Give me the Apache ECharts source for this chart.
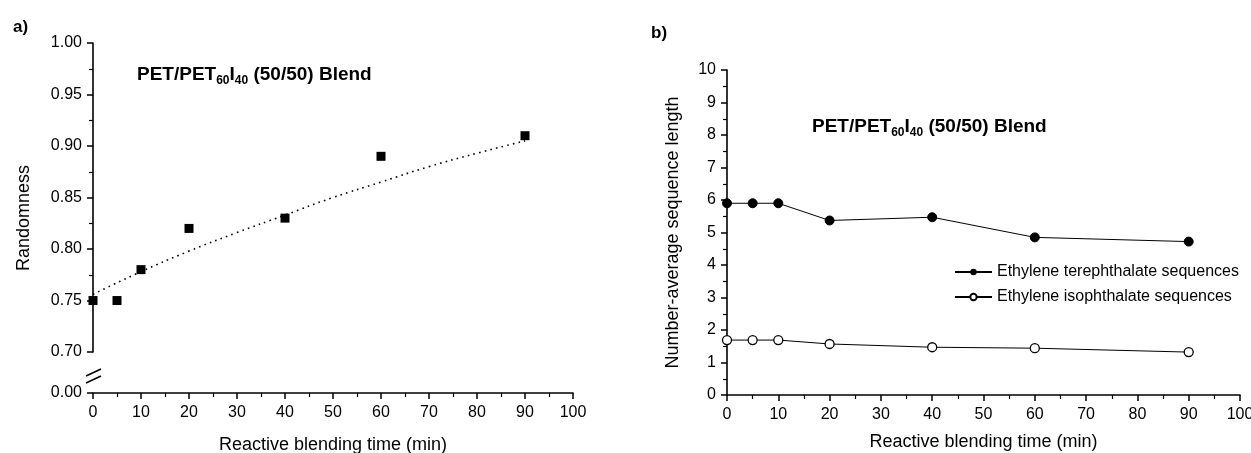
<!DOCTYPE html>
<html>
<head>
<meta charset="utf-8">
<script src="https://cdn.jsdelivr.net/npm/echarts@6/dist/echarts.min.js"></script>
<style>
html,body{margin:0;padding:0;background:#fff;}
#c{width:1251px;height:453px;}
</style>
</head>
<body>
<div id="c"></div>
<script>
// ---- data ----
const timeA = [0, 5, 10, 20, 40, 60, 90];
const randomness = [0.75, 0.75, 0.78, 0.82, 0.83, 0.89, 0.91];
const fitTime = [0, 10, 20, 30, 40, 50, 60, 70, 80, 90];
const fitRandomness = [0.756, 0.778, 0.798, 0.816, 0.833, 0.850, 0.865, 0.880, 0.893, 0.905];

const timeB = [0, 5, 10, 20, 40, 60, 90];
const terephthalate = [5.9, 5.9, 5.9, 5.37, 5.47, 4.85, 4.72];
const isophthalate = [1.69, 1.69, 1.69, 1.57, 1.47, 1.44, 1.32];

const seriesNames = ['Ethylene terephthalate sequences', 'Ethylene isophthalate sequences'];
const titleText = '{b|PET/PET}{s|60}{b|I}{s|40}{b| (50/50) Blend}';
const xName = 'Reactive blending time (min)';
const yNameA = 'Randomness';
const yNameB = 'Number-average sequence length';

const FONT = 'Liberation Sans, Arial, sans-serif';
const chart = echarts.init(document.getElementById('c'), null, {renderer: 'canvas'});

const axisLine = {show: true, lineStyle: {color: '#000', width: 1.6}};
const axisTick = {show: true, inside: false, length: 6, lineStyle: {color: '#000', width: 1.5}};
const minorTick = {show: true, splitNumber: 2, length: 4, lineStyle: {color: '#000', width: 1.2}};
const xLabel = {color: '#000', fontFamily: FONT, fontSize: 16, margin: 12};
const yLabel = {color: '#000', fontFamily: FONT, fontSize: 16, margin: 11};
const nameStyle = {color: '#000', fontFamily: FONT, fontSize: 18};
const titleRich = {
  b: {fontFamily: FONT, fontSize: 19, fontWeight: 'bold', color: '#000', lineHeight: 24},
  s: {fontFamily: FONT, fontSize: 12, fontWeight: 'bold', color: '#000', lineHeight: 12, verticalAlign: 'bottom'}
};

const option = {
  animation: false,
  backgroundColor: '#fff',
  title: [
    {text: titleText, left: 132, top: 58, textStyle: {rich: titleRich}},
    {text: titleText, left: 807, top: 110, textStyle: {rich: titleRich}},
    {text: '{b|a}{b|)}', left: 8, top: 14, textStyle: {rich: {b: {fontFamily: FONT, fontSize: 17, fontWeight: 'bold', color: '#000'}}}},
    {text: '{b|b}{n|)}', left: 646, top: 20, textStyle: {rich: {b: {fontFamily: FONT, fontSize: 17, fontWeight: 'bold', color: '#000'}, n: {fontFamily: FONT, fontSize: 17, color: '#000'}}}}
  ],
  legend: {
    orient: 'vertical', left: 949, top: 259, itemWidth: 37, itemHeight: 8, itemGap: 9,
    textStyle: {fontFamily: FONT, fontSize: 16, color: '#000'},
    data: seriesNames
  },
  grid: [
    {left: 93, top: 43, width: 480, height: 350, outerBoundsMode: 'none', containLabel: false},
    {left: 727, top: 70, width: 513, height: 325, outerBoundsMode: 'none', containLabel: false}
  ],
  xAxis: [
    {gridIndex: 0, type: 'value', min: 0, max: 100, interval: 10,
     axisLine: axisLine, axisTick: axisTick, minorTick: minorTick, axisLabel: xLabel,
     splitLine: {show: false}, minorSplitLine: {show: false},
     name: xName, nameLocation: 'middle', nameGap: 43, nameTextStyle: nameStyle},
    {gridIndex: 1, type: 'value', min: 0, max: 100, interval: 10,
     axisLine: axisLine, axisTick: axisTick, minorTick: minorTick, axisLabel: xLabel,
     splitLine: {show: false}, minorSplitLine: {show: false},
     name: xName, nameLocation: 'middle', nameGap: 38, nameTextStyle: nameStyle}
  ],
  yAxis: [
    {gridIndex: 0, type: 'value', min: 0, max: 1.0, interval: 0.05,
     breaks: [{start: 0, end: 0.7, gap: '11.7%'}],
     breakArea: {show: false},
     axisLine: axisLine, axisTick: axisTick, minorTick: minorTick,
     axisLabel: Object.assign({}, yLabel, {formatter: v => v.toFixed(2)}),
     splitLine: {show: false}, minorSplitLine: {show: false},
     name: yNameA, nameLocation: 'middle', nameGap: 60, nameTextStyle: nameStyle},
    {gridIndex: 1, type: 'value', min: 0, max: 10, interval: 1,
     axisLine: axisLine, axisTick: axisTick, minorTick: minorTick, axisLabel: yLabel,
     splitLine: {show: false}, minorSplitLine: {show: false},
     name: yNameB, nameLocation: 'middle', nameGap: 45, nameTextStyle: nameStyle}
  ],
  series: [
    {type: 'scatter', xAxisIndex: 0, yAxisIndex: 0, symbol: 'rect', symbolSize: 9, z: 5,
     itemStyle: {color: '#000', opacity: 1}, data: timeA.map((t, i) => [t, randomness[i]])},
    {type: 'line', xAxisIndex: 0, yAxisIndex: 0, smooth: true, showSymbol: false, symbol: 'none',
     lineStyle: {color: '#000', width: 1.6, type: [1.6, 4.2]}, data: fitTime.map((t, i) => [t, fitRandomness[i]])},
    {name: seriesNames[0], type: 'line', xAxisIndex: 1, yAxisIndex: 1, symbol: 'circle', symbolSize: 9,
     lineStyle: {color: '#000', width: 1}, itemStyle: {color: '#000', borderColor: '#000'},
     data: timeB.map((t, i) => [t, terephthalate[i]])},
    {name: seriesNames[1], type: 'line', xAxisIndex: 1, yAxisIndex: 1, symbol: 'circle', symbolSize: 9,
     lineStyle: {color: '#000', width: 1}, itemStyle: {color: '#fff', borderColor: '#000', borderWidth: 1.3},
     data: timeB.map((t, i) => [t, isophthalate[i]])}
  ],
  graphic: [
    // axis-break mark on the y axis of panel a
    {type: 'rect', shape: {x: 90, y: 372, width: 6, height: 7}, style: {fill: '#fff'}, z: 100},
    {type: 'line', shape: {x1: 86, y1: 376, x2: 101, y2: 369}, style: {stroke: '#000', lineWidth: 1.5}, z: 101},
    {type: 'line', shape: {x1: 86, y1: 383, x2: 101, y2: 376}, style: {stroke: '#000', lineWidth: 1.5}, z: 101}
  ]
};
chart.setOption(option);
</script>
</body>
</html>
